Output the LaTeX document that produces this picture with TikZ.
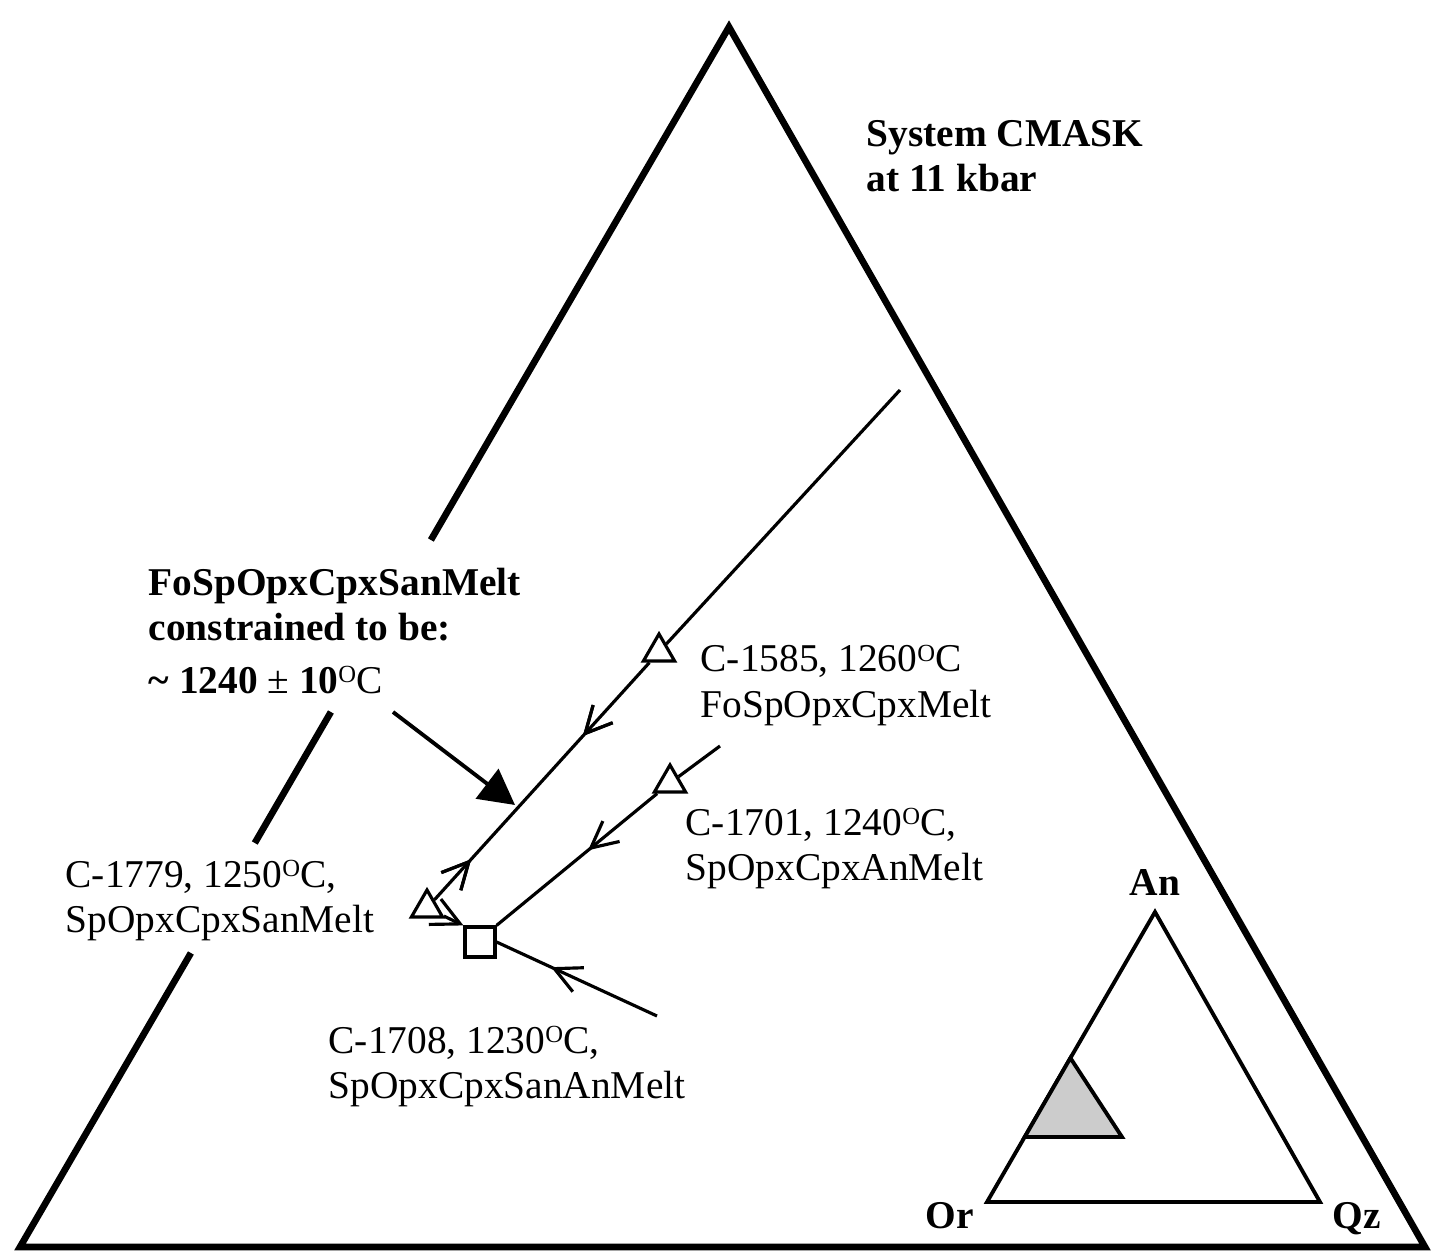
\documentclass[tikz,border=0pt]{standalone}
\usepackage{fontspec}
\setmainfont{Liberation Serif}
\usetikzlibrary{arrows.meta,decorations.markings,shapes.geometric}
\newcommand\supO{\raisebox{3.0pt}{\fontsize{7}{8}\selectfont\mdseries O}}
\begin{document}
\begin{tikzpicture}[x=0.01cm,y=-0.01cm,
  lbl/.style={inner sep=0pt, anchor=base west, font=\fontsize{11.2}{13}\selectfont},
  blbl/.style={inner sep=0pt, anchor=base west, font=\fontsize{11.2}{13}\selectfont\bfseries},
  frame/.style={line width=1.9pt, line join=miter, line cap=butt},
  thinline/.style={line width=0.9pt},
  marker/.style={draw, line width=0.9pt, fill=white, regular polygon, regular polygon sides=3, minimum size=0.36cm, inner sep=0pt},
  sqbox/.style={draw, line width=0.9pt, fill=white, minimum size=0.30cm, inner sep=0pt},
  fwdarrow/.style={postaction={decorate}, decoration={markings, mark=at position #1 with {\arrow{Straight Barb[length=7.5pt,width=7.5pt]}}}},
  revarrow/.style={postaction={decorate}, decoration={markings, mark=at position #1 with {\arrowreversed{Straight Barb[length=7.5pt,width=7.5pt]}}}}
]
\useasboundingbox (0,0) rectangle (1433,1252);

% main triangle
\coordinate (A) at (729,27);
\coordinate (L) at (20,1247);
\coordinate (R) at (1425,1247);
\coordinate (g1) at (430.9,540);
\coordinate (g2) at (330.9,712);
\coordinate (g3) at (254.8,843);
\coordinate (g4) at (190.9,953);
\draw[frame] (g1) -- (A) -- (R) -- (L) -- (g4);
\draw[frame] (g2) -- (g3);

% markers
\node[marker] (t1585) at (659,652) {};
\node[marker] (t1701) at (670,783) {};
\node[marker] (t1779) at (427,908) {};
\node[sqbox] (sq) at (480,942) {};

% line ends
\coordinate (s1) at (900,390);
\coordinate (s2) at (720,746);
\coordinate (s3) at (657,1016);

\draw[thinline] (s1) -- (t1585);
\draw[thinline, fwdarrow=0.31, revarrow=0.83] (t1585) -- (t1779);
\draw[thinline] (s2) -- (t1701);
\draw[thinline, fwdarrow=0.43] (t1701) -- (sq.north east);
\draw[thinline, fwdarrow=0.66] (s3) -- (sq.east);
\draw[thinline, -{Straight Barb[length=8pt,width=8pt]}] (t1779) -- (sq.north west);

% bold arrow
\coordinate (b1) at (393,712);
\coordinate (b2) at (515,805);
\draw[line width=1.1pt, -{Triangle[length=10pt,width=10.5pt]}] (b1) -- (b2);

% inset
\coordinate (iA) at (1155,912);
\coordinate (iO) at (987,1202);
\coordinate (iQ) at (1320,1202);
\draw[line width=1.1pt, line join=miter] (iA) -- (iQ) -- (iO) -- cycle;
\coordinate (gA) at (1070.4,1058);
\coordinate (gL) at (1024.7,1137);
\coordinate (gR) at (1122,1137);
\filldraw[fill=gray!40, line width=1.1pt, line join=miter] (gA) -- (gR) -- (gL) -- cycle;

% texts
\node[blbl] (sys1) at (866,147) {System CMASK};
\node[blbl] (sys2) at (866,192) {at 11 kbar};

\node[blbl] (c1) at (148,596) {FoSpOpxCpxSanMelt};
\node[blbl] (c2) at (148,640) {constrained to be:};
\node[blbl] (c3) at (148,693) {\textasciitilde{} 1240 {\mdseries ±} 10\supO{\mdseries C}};

\node[lbl] (l1585a) at (700,672) {C-1585, 1260\supO C};
\node[lbl] (l1585b) at (700,717) {FoSpOpxCpxMelt};
\node[lbl] (l1701a) at (685,835) {C-1701, 1240\supO C,};
\node[lbl] (l1701b) at (685,880) {SpOpxCpxAnMelt};
\node[lbl] (l1779a) at (65,887) {C-1779, 1250\supO C,};
\node[lbl] (l1779b) at (65,932) {SpOpxCpxSanMelt};
\node[lbl] (l1708a) at (328,1053) {C-1708, 1230\supO C,};
\node[lbl] (l1708b) at (328,1098) {SpOpxCpxSanAnMelt};

\node[blbl, anchor=base] (An) at (1155,895) {An};
\node[blbl] (Or) at (925,1228) {Or};
\node[blbl] (Qz) at (1332,1228) {Qz};
\end{tikzpicture}
\end{document}
